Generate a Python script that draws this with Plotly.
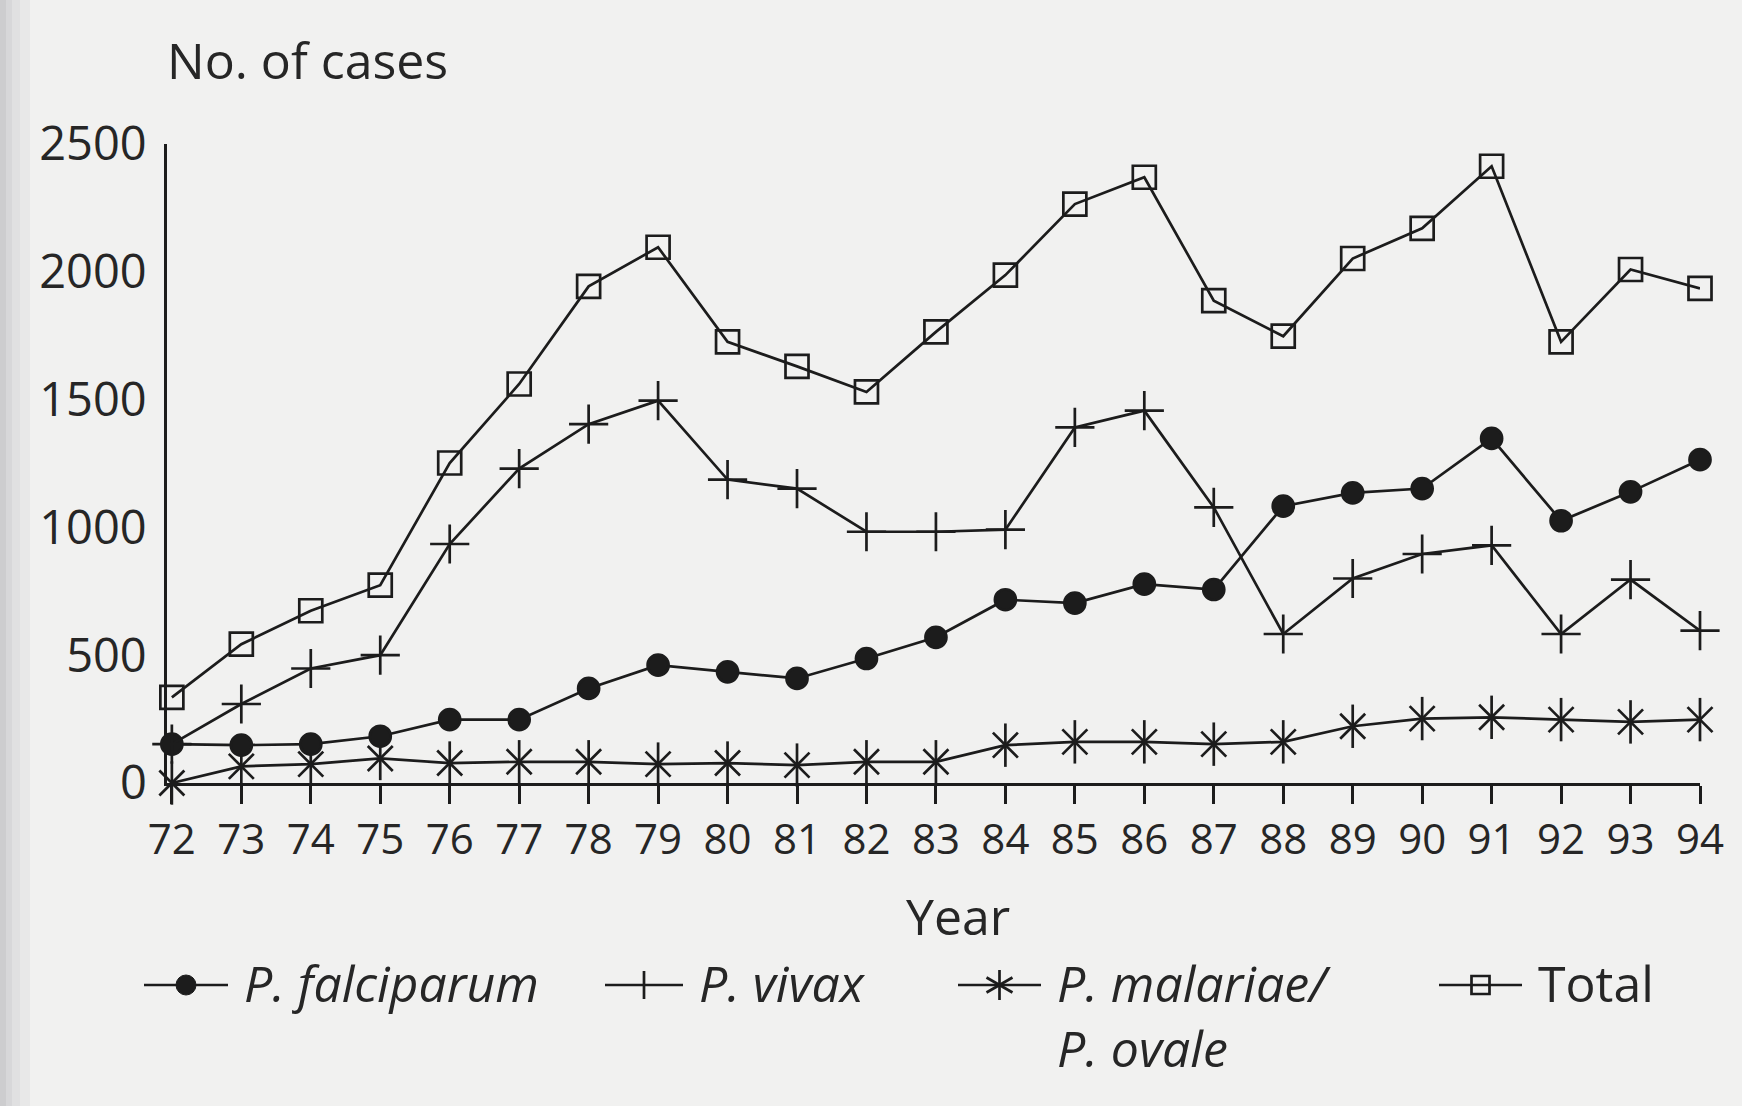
import math
import plotly.graph_objects as go

# Reported malaria cases by species, 1972-1994
years = list(range(72, 95))
year_labels = [str(y) for y in years]

falciparum = [152, 148, 152, 183, 248, 248, 370, 461, 435, 409, 487, 570,
              717, 704, 778, 757, 1083, 1135, 1152, 1348, 1026, 1139, 1265]
vivax = [152, 309, 448, 500, 935, 1230, 1404, 1496, 1187, 1152, 983, 983,
         991, 1391, 1457, 1078, 583, 800, 896, 930, 583, 796, 596]
malariae_ovale = [0, 65, 74, 96, 78, 83, 83, 74, 78, 70, 83, 83,
                  148, 161, 161, 152, 161, 222, 252, 257, 248, 239, 248]
total = [335, 543, 674, 774, 1252, 1561, 1943, 2096, 1726, 1630, 1530, 1765,
         1987, 2265, 2370, 1887, 1748, 2052, 2170, 2413, 1726, 2009, 1935]

y_ticks = [0, 500, 1000, 1500, 2000, 2500]

W, H = 1742, 1106
INK = "#1c1c1c"
TEXT = "#262626"
LW = 2.7
FONT = "Open Sans"
FS = 50

# plot area edges in page pixels
L, R, T, B = 167, 1700, 144, 783


def px(x):
    """page pixel x -> paper fraction"""
    return (x - L) / (R - L)


def py(y):
    """page pixel y -> paper fraction"""
    return (B - y) / (B - T)


fig = go.Figure()


def series(y, symbol, size, name, line=True):
    return go.Scatter(
        x=years, y=y, name=name, mode="lines+markers" if line else "markers",
        line=dict(color=INK, width=LW),
        marker=dict(symbol=symbol, size=size, color=INK,
                    line=dict(color=INK, width=LW)),
        cliponaxis=False, showlegend=False,
    )


# P. malariae / P. ovale: six-spoke star from a vertical bar plus an x
fig.add_trace(series(malariae_ovale, "line-ns", 31, "P. malariae/P. ovale"))
fig.add_trace(series(malariae_ovale, "x-thin", 25, "P. malariae/P. ovale", line=False))
fig.add_trace(series(falciparum, "circle", 21, "P. falciparum"))
fig.add_trace(series(vivax, "cross-thin", 28, "P. vivax"))
fig.add_trace(series(total, "square-open", 23, "Total"))


def seg(x0, y0, x1, y1, width=LW):
    fig.add_shape(type="line", xref="paper", yref="paper",
                  x0=px(x0), y0=py(y0), x1=px(x1), y1=py(y1),
                  line=dict(color=INK, width=width))


def label(x, y, text, anchor="left", yanchor="middle"):
    fig.add_annotation(
        x=px(x), y=py(y), xref="paper", yref="paper", text=text,
        showarrow=False, xanchor=anchor, yanchor=yanchor, align="left",
        font=dict(family=FONT, size=FS, color=TEXT),
    )


# key below the chart
LEG_Y = 985
key = [
    (144, 228, "dot", "<i>P. falciparum</i>"),
    (605, 683, "cross", "<i>P. vivax</i>"),
    (958, 1041, "star", "<i>P. malariae/</i><br><i>P. ovale</i>"),
    (1439, 1522, "square", "Total"),
]
for xa, xb, glyph, text in key:
    xc = (xa + xb) / 2
    seg(xa, LEG_Y, xb, LEG_Y)
    if glyph == "dot":
        r = 10
        fig.add_shape(type="circle", xref="paper", yref="paper",
                      x0=px(xc - r), x1=px(xc + r), y0=py(LEG_Y + r), y1=py(LEG_Y - r),
                      fillcolor=INK, line=dict(color=INK, width=1))
    elif glyph == "cross":
        seg(xc, LEG_Y - 14, xc, LEG_Y + 14)
    elif glyph == "star":
        seg(xc, LEG_Y - 15, xc, LEG_Y + 15)
        for ang in (30, -30):
            dx = 15 * math.cos(math.radians(ang))
            dy = 15 * math.sin(math.radians(ang))
            seg(xc - dx, LEG_Y - dy, xc + dx, LEG_Y + dy)
    elif glyph == "square":
        h = 9
        fig.add_shape(type="rect", xref="paper", yref="paper",
                      x0=px(xc - h), x1=px(xc + h), y0=py(LEG_Y + h), y1=py(LEG_Y - h),
                      fillcolor="rgba(0,0,0,0)", line=dict(color=INK, width=LW))
    label(xb + 14, LEG_Y - 38, text, yanchor="top")

label(L - 2, 60, "No. of cases")
label(958, 916, "Year", anchor="center")

# soft shading along the page's bound edge
for xa, xb, col in [(0, 6, "#cdcdcf"), (6, 12, "#d7d7d9"),
                    (12, 20, "#e0e0e1"), (20, 30, "#e8e8e8")]:
    fig.add_shape(type="rect", x0=px(xa), x1=px(xb), y0=py(H), y1=py(0),
                  xref="paper", yref="paper",
                  fillcolor=col, line=dict(width=0), layer="below")

fig.update_layout(
    width=W, height=H,
    margin=dict(l=L, r=W - R, t=T, b=H - B, pad=0, autoexpand=False),
    paper_bgcolor="#f1f1f0",
    plot_bgcolor="rgba(0,0,0,0)",
    showlegend=False,
    font=dict(family=FONT, color=TEXT),
    xaxis=dict(
        range=[71.93, 94], automargin=False,
        tickmode="array", tickvals=years, ticktext=year_labels,
        ticks="outside", ticklen=18, tickwidth=LW, tickcolor=INK,
        showline=True, linewidth=LW, linecolor=INK,
        showgrid=False, zeroline=False,
        tickfont=dict(family=FONT, size=42, color=TEXT),
    ),
    yaxis=dict(
        range=[0, 2500], automargin=False,
        tickmode="array", tickvals=y_ticks,
        ticks="", showline=True, linewidth=LW, linecolor=INK,
        showgrid=False, zeroline=False,
        ticklabelstandoff=8,
        tickfont=dict(family=FONT, size=47, color=TEXT),
    ),
)

fig.write_html("out.html")
